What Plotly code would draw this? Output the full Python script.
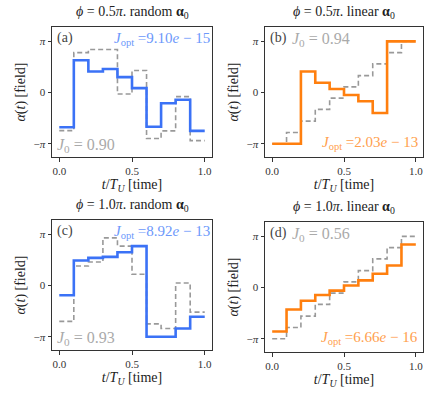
import plotly.graph_objects as go

# ── Data (values in units of pi) ───────────────────────────────────────────────
t = [0.0, 0.1, 0.2, 0.3, 0.4, 0.5, 0.6, 0.7, 0.8, 0.9, 1.0]

a_opt = [-0.68, 0.63, 0.41, 0.46, 0.30, 0.085, -0.67, -0.21, -0.14, -0.75]
a_init = [-0.745, 0.78, 0.84, 0.84, -0.03, 0.43, -0.90, -0.75, -0.08, -0.94]

b_opt = [-1.0, -1.0, 0.41, 0.19, 0.07, -0.05, -0.17, -0.40, 1.0, 1.0]
b_init = [-1.0, -0.78, -0.56, -0.33, -0.11, 0.11, 0.33, 0.56, 0.78, 1.0]

c_opt = [-0.19, 0.49, 0.54, 0.56, 0.65, 0.77, -1.0, -1.0, -0.84, -0.61]
c_init = [-0.70, 0.38, 0.46, 0.93, 0.77, 0.22, -0.75, -0.84, 0.05, -0.52]

d_opt = [-0.86, -0.43, -0.26, -0.145, -0.06, 0.04, 0.14, 0.27, 0.43, 0.84]
d_init = [-1.0, -0.78, -0.56, -0.33, -0.11, 0.11, 0.33, 0.56, 0.78, 1.0]

BOLD_ALPHA = "<span style='font-weight:bold'>α</span><sub>0</sub>"
titles = [
    "<i>ϕ</i> = 0.5<i>π</i>. random " + BOLD_ALPHA,
    "<i>ϕ</i> = 0.5<i>π</i>. linear " + BOLD_ALPHA,
    "<i>ϕ</i> = 1.0<i>π</i>. random " + BOLD_ALPHA,
    "<i>ϕ</i> = 1.0<i>π</i>. linear " + BOLD_ALPHA,
]
letters = ["(a)", "(b)", "(c)", "(d)"]
j0 = ["0.90", "0.94", "0.93", "0.56"]
jopt = ["9.10<i>e</i> − 15", "2.03<i>e</i> − 13", "8.92<i>e</i> − 13", "6.66<i>e</i> − 16"]

# ── Style ─────────────────────────────────────────────────────────────────────
FONT = "Liberation Serif, DejaVu Serif, serif"
BLUE = "#3b72f6"
ORANGE = "#ff7f0e"
GRAY = "#999999"
BLUE_TXT = "#6c98fb"
ORANGE_TXT = "#ffa04d"
GRAY_TXT = "#aaaaaa"

# panel boxes in pixels: (x0, x1, y0, y1), y from top
W, H = 436, 397
boxes = [(52, 212, 27, 157), (265, 423, 27, 157), (52, 212, 220, 350), (265, 423, 222, 352)]

panels = [
    (a_opt, a_init, BLUE, BLUE_TXT, "top"),
    (b_opt, b_init, ORANGE, ORANGE_TXT, "bottom"),
    (c_opt, c_init, BLUE, BLUE_TXT, "top"),
    (d_opt, d_init, ORANGE, ORANGE_TXT, "bottom"),
]

fig = go.Figure()
annotations = []

for i, (opt, init, col, tcol, jopt_pos) in enumerate(panels):
    n = "" if i == 0 else str(i + 1)
    xa, ya = "x" + n, "y" + n
    fig.add_trace(go.Scatter(
        x=t, y=init + [init[-1]], mode="lines", line_shape="hv",
        line=dict(color=GRAY, width=1.6, dash="5px,3px"),
        xaxis=xa, yaxis=ya, showlegend=False,
    ))
    fig.add_trace(go.Scatter(
        x=t, y=opt + [opt[-1]], mode="lines", line_shape="hv",
        line=dict(color=col, width=2.6),
        xaxis=xa, yaxis=ya, showlegend=False,
    ))

    x0, x1, y0, y1 = boxes[i]
    dom_x = [x0 / W, x1 / W]
    dom_y = [1 - y1 / H, 1 - y0 / H]
    axis_common = dict(
        showline=True, mirror=True, linecolor="#333333", linewidth=1,
        showgrid=False, zeroline=False, ticks="outside", ticklen=3.5,
        tickcolor="#333333", tickfont=dict(family=FONT, size=11, color="#333333"),
    )
    fig.update_layout({
        "xaxis" + n: dict(
            **axis_common, domain=dom_x, anchor=ya, range=[-0.05, 1.05],
            tickvals=[0.0, 0.5, 1.0], ticktext=["0.0", "0.5", "1.0"],
            title=dict(text="<i>t</i>/<i>T<sub>U</sub></i> [time]",
                       font=dict(family=FONT, size=14, color="#222222"), standoff=2),
        ),
        "yaxis" + n: dict(
            **axis_common, domain=dom_y, anchor=xa, range=[-1.26, 1.28],
            tickvals=[-1, 0, 1], ticktext=["−<i>π</i>", "0", "<i>π</i>"],
            title=dict(text="<i>α</i>(<i>t</i>) [field]",
                       font=dict(family=FONT, size=14, color="#222222"), standoff=4),
        ),
    })

    xd, yd = xa + " domain", ya + " domain"
    annotations.append(dict(
        text=titles[i], xref=xd, yref=yd, x=0.5, y=1.0, yshift=4,
        xanchor="center", yanchor="bottom", showarrow=False,
        font=dict(family=FONT, size=14, color="#222222", weight="normal"),
    ))
    annotations.append(dict(
        text=letters[i], xref=xd, yref=yd, x=0.02, y=0.99,
        xanchor="left", yanchor="top", showarrow=False,
        font=dict(family=FONT, size=14, color="#444444"),
    ))
    jopt_txt = "<i>J</i><sub>opt</sub> =" + jopt[i]
    j0_txt = "<i>J</i><sub>0</sub> = " + j0[i]
    if jopt_pos == "top":
        annotations.append(dict(
            text=jopt_txt, xref=xd, yref=yd, x=1.0, y=0.99,
            xanchor="right", yanchor="top", showarrow=False,
            font=dict(family=FONT, size=15, color=tcol),
        ))
        annotations.append(dict(
            text=j0_txt, xref=xd, yref=yd, x=0.02, y=0.0,
            xanchor="left", yanchor="bottom", showarrow=False,
            font=dict(family=FONT, size=16, color=GRAY_TXT),
        ))
    else:
        annotations.append(dict(
            text=j0_txt, xref=xd, yref=yd, x=0.16, y=0.99,
            xanchor="left", yanchor="top", showarrow=False,
            font=dict(family=FONT, size=16, color=GRAY_TXT),
        ))
        annotations.append(dict(
            text=jopt_txt, xref=xd, yref=yd, x=0.98, y=0.02,
            xanchor="right", yanchor="bottom", showarrow=False,
            font=dict(family=FONT, size=15, color=tcol),
        ))

fig.update_layout(
    width=W, height=H,
    margin=dict(l=0, r=0, t=0, b=0),
    paper_bgcolor="white", plot_bgcolor="white",
    annotations=annotations,
    font=dict(family=FONT),
)

fig.write_html("out.html", config={"displayModeBar": False},
               post_script="document.body.style.margin='0';")
